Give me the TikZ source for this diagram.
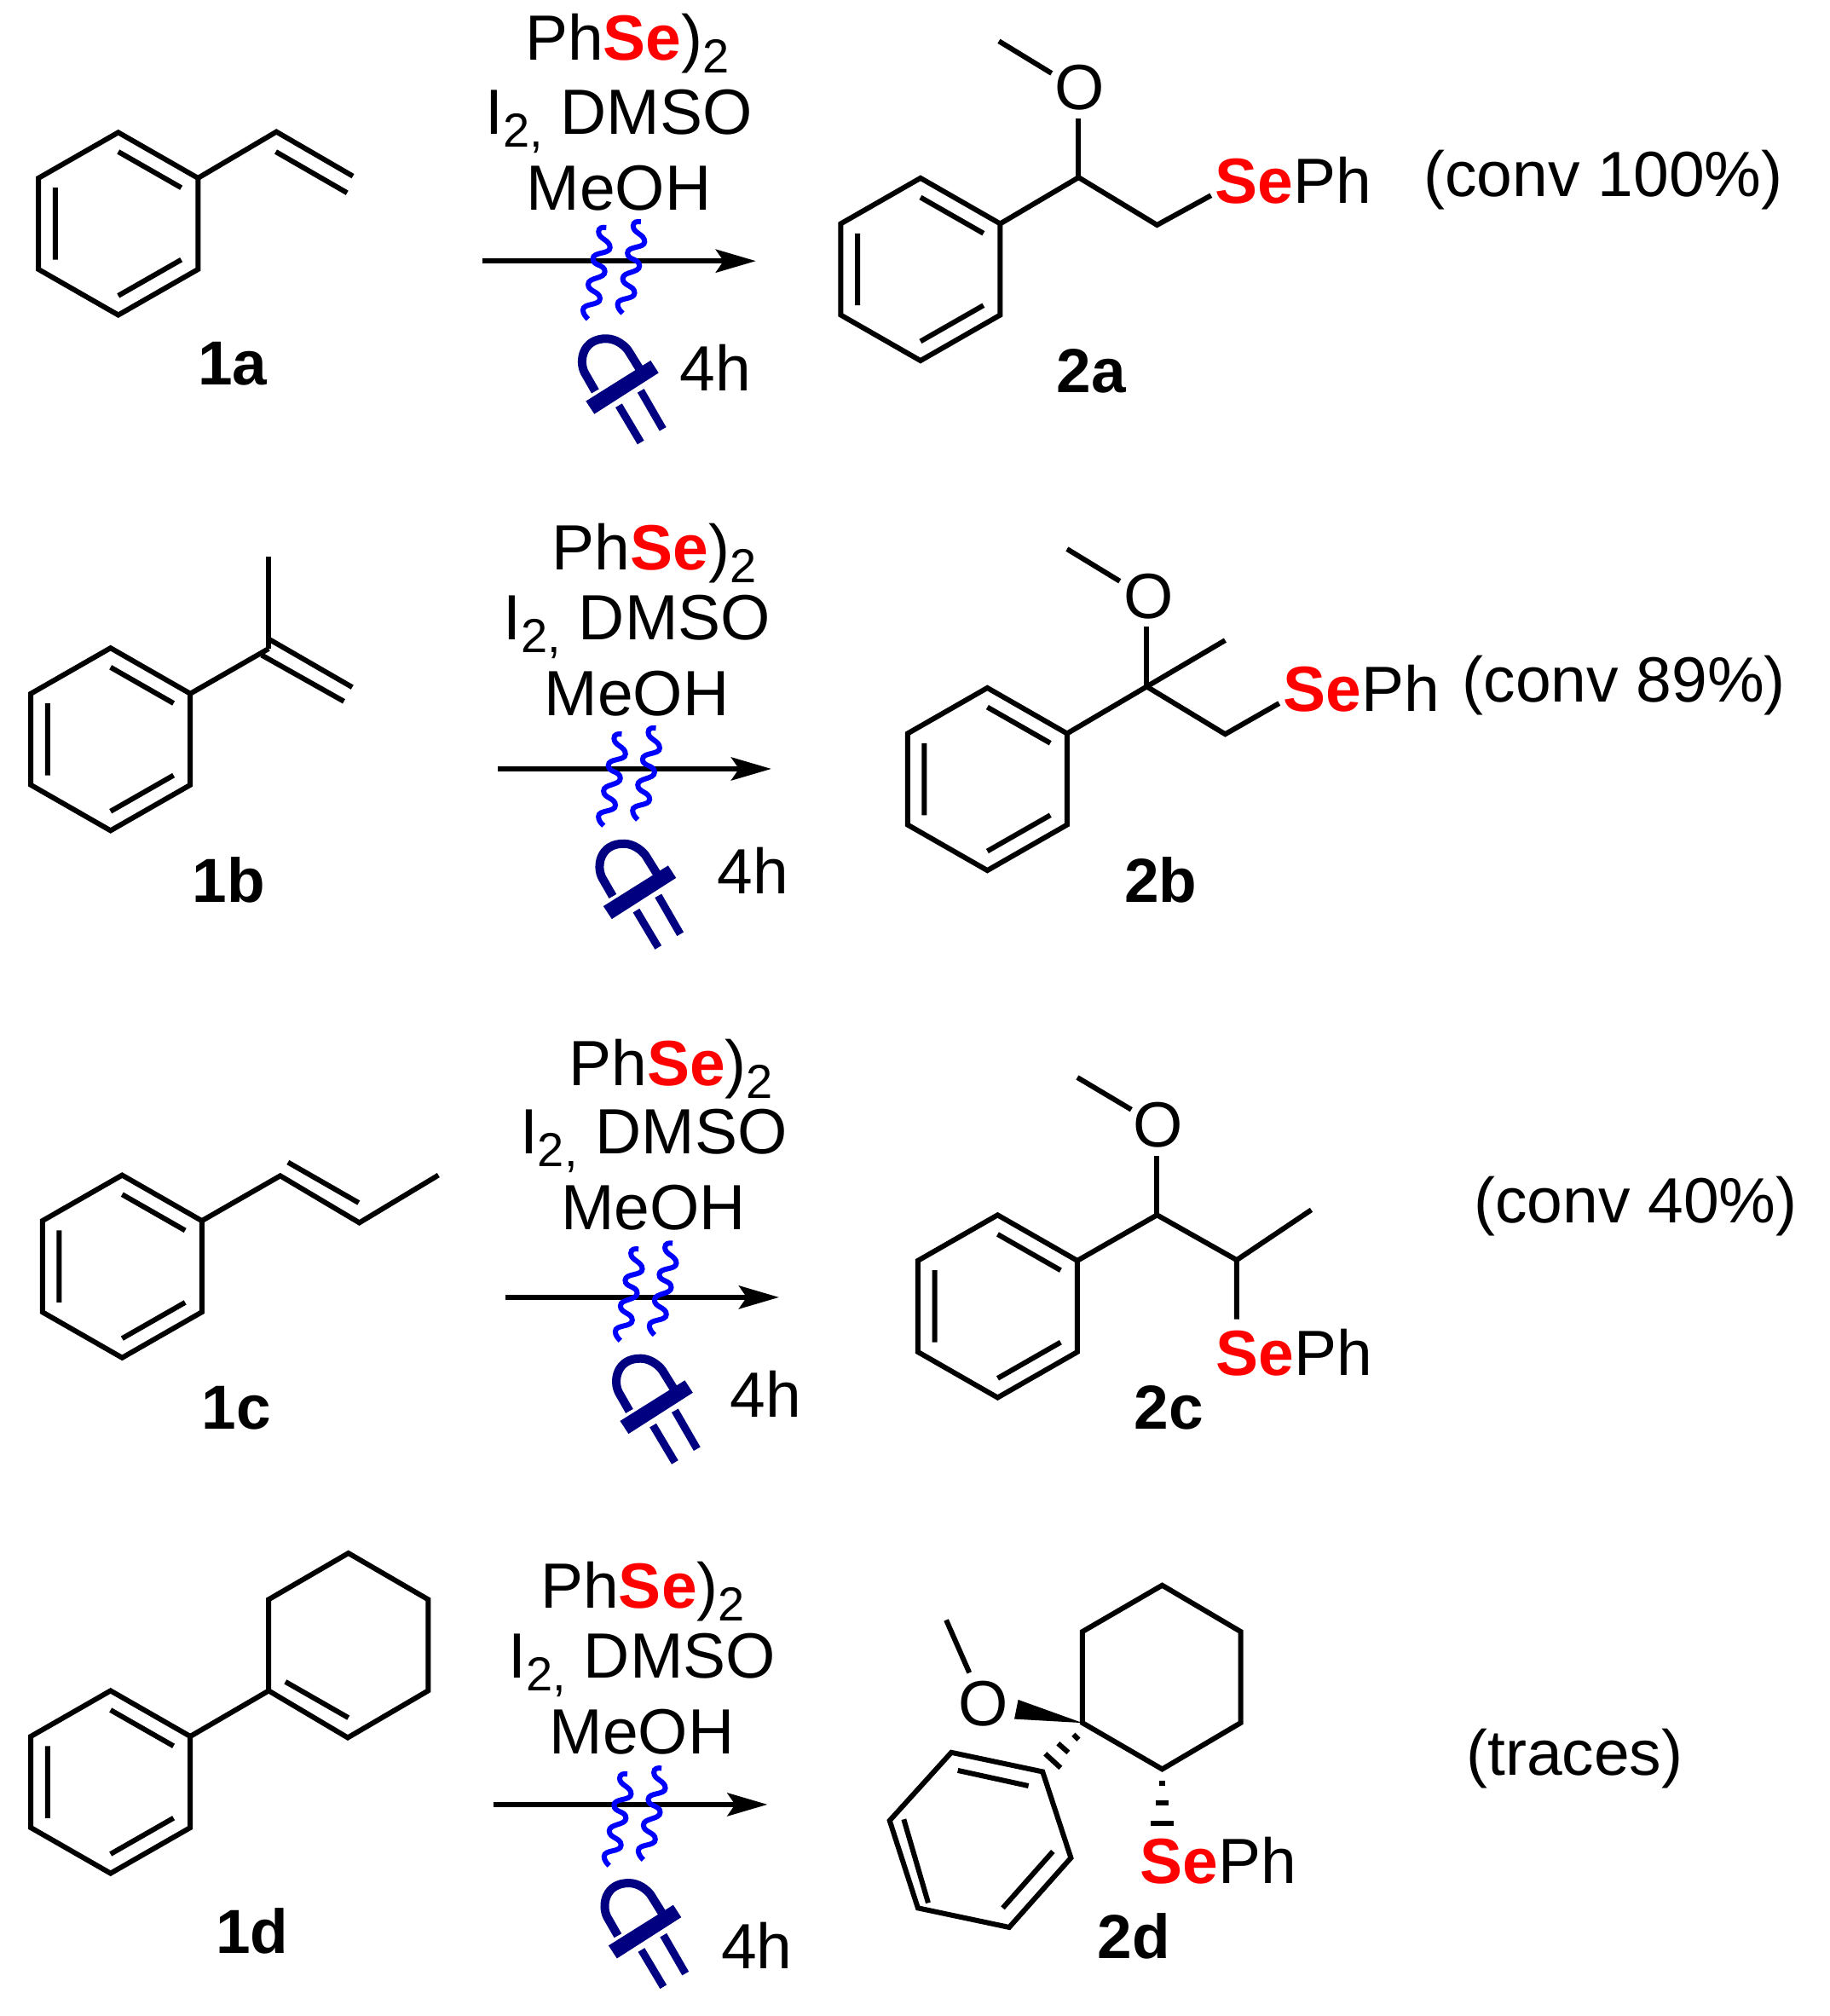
\documentclass[tikz,border=0pt]{standalone}
\usepackage{fontspec}
\setmainfont{Liberation Sans}
\usetikzlibrary{arrows.meta}
\newcommand{\bigfs}{\fontsize{75}{75}\selectfont}
\newcommand{\lblfs}{\fontsize{73}{73}\selectfont}
\newcommand{\subfs}{\fontsize{56}{56}\selectfont}
\newcommand{\sub}[1]{\raisebox{-15pt}{\subfs #1}}
\newcommand{\Sered}{\textcolor{red}{\bfseries Se}}
\definecolor{navy}{RGB}{0,0,128}
\tikzset{
  bond/.style={line width=6pt,line cap=butt,line join=miter,black},
  txt/.style={inner sep=0pt,outer sep=0pt,anchor=base west,font=\bigfs},
  lbl/.style={inner sep=0pt,outer sep=0pt,anchor=base,font=\lblfs\bfseries},
  rxnarrow/.style={line width=6pt,-{Stealth[length=47pt,width=27pt,inset=9pt]}},
  phenyl/.pic={
    \coordinate (-a) at (0,-71); \coordinate (-b) at (62,-35.5); \coordinate (-c) at (62,35.5);
    \coordinate (-d) at (0,71); \coordinate (-e) at (-62,35.5); \coordinate (-f) at (-62,-35.5);
    \draw[bond] (-a)--(-b)--(-c)--(-d)--(-e)--(-f)--cycle;
    \draw[bond] (0,-56)--(49,-28) (49,28)--(0,56) (-49,-28)--(-49,28);
  },
  wave/.pic={
    \draw[line width=6pt,blue,line cap=butt] (0,0) .. controls (-3,-.5) and (-6,0) .. (-6,3.3)
      .. controls (-6,9) and (2.9,9.5) .. (2.9,15.5) .. controls (2.9,21) and (-10.4,18.5) .. (-10.4,24.3)
      .. controls (-10.4,30) and (-1.1,28.5) .. (-1.1,34.3) .. controls (-1.1,40) and (-14.1,38.5) .. (-14.1,44.2)
      .. controls (-14.1,50) and (-4.9,49.5) .. (-4.9,55.3) .. controls (-4.9,61) and (-18.1,58.5) .. (-18.1,64.1)
      .. controls (-18.1,67) and (-16,69.5) .. (-14.1,71.2);
  },
  ledlamp/.pic={
    \fill[navy] (-28.3,11)--(-21.7,21)--(28.3,-11)--(22.1,-20.6)--cycle;
    \draw[navy,line width=10pt] (-21,3.3)--(-29.2,-11) .. controls (-34,-20) and (-31,-38) .. (-12,-37.6)
      .. controls (-5,-37.4) and (1,-33) .. (4.4,-28.7)--(13.3,-14.4);
    \draw[navy,line width=9pt] (-2.7,14.4)--(14.4,43.1) (14.4,2.9)--(31.6,32.7);
  }
}
\newcommand{\reagents}[7]{%
  \node[txt] (#1ph) at (#2,#3) {Ph\Sered)\sub{2}};
  \node[txt] (#1io) at (#4,#5) {I\sub{2,} DMSO};
  \node[txt] (#1me) at (#6,#7) {MeOH};
}
\newcommand{\lightpart}[7]{%
  \coordinate (#1s) at (#2,#3);
  \coordinate (#1e) at ([xshift=213*1.508pt]#1s);
  \draw[rxnarrow] (#1s)--(#1e);
  \pic at (#4,#5) {ledlamp};
  \node[txt] (#1t) at (#6,#7) {4h};
}
\begin{document}
\begin{tikzpicture}[x=1.5081pt,y=-1.5081pt]
\useasboundingbox (0,0) rectangle (1423,1568);
% ---------- row a
\pic (pa) at (92,174) {phenyl};
\coordinate (va1) at (215,102.5); \coordinate (va2) at (274.5,137);
\draw[bond] (pa-b)--(va1)--(va2);
\draw[bond] (214.5,118)--(270,150);
\node[lbl] (la1) at (181,299.5) {1a};
\reagents{ra}{408.5}{47}{377.5}{104.5}{409.5}{163.5}
\lightpart{ra}{375}{203}{484}{301}{529}{304}
\pic at (471.6,177) {wave};
\pic at (498.5,172.5) {wave};
\pic (qa) at (716,209.5) {phenyl};
\coordinate (ca1) at (839,138); \coordinate (ca2) at (900,175);
\node[txt] (oa) at (820.5,85) {O};
\coordinate (oab) at (839,92); \coordinate (mea) at (777,32); \coordinate (oam) at (818,57); \coordinate (sea) at (942,152);
\draw[bond] (qa-b)--(ca1)--(ca2)--(sea);
\draw[bond] (ca1)--(oab);
\draw[bond] (mea)--(oam);
\node[txt] (sa) at (945,158) {\Sered Ph};
\node[lbl] (la2) at (849,305.5) {2a};
\node[txt] (ca) at (1107.5,153) {(conv 100\%)};
% ---------- row b
\pic (pb) at (86,575) {phenyl};
\coordinate (vb1) at (209,504.5); \coordinate (vb2) at (274,534.5); \coordinate (vb0) at (209,497); \coordinate (vbm) at (209,433);
\draw[bond] (pb-b)--(vb1);
\draw[bond] (vb1)--(vbm);
\draw[bond] (vb0)--(vb2);
\draw[bond] (203.5,509.5)--(267.5,545.5);
\node[lbl] (lb1) at (178,701.5) {1b};
\reagents{rb}{429.5}{443}{391.5}{497.5}{423.5}{556.5}
\lightpart{rb}{387}{598}{497.6}{693.8}{558}{695}
\pic at (483.6,571) {wave};
\pic at (510.2,566.3) {wave};
\pic (qb) at (768,606) {phenyl};
\coordinate (cb1) at (892,534); \coordinate (cb2) at (953,571);
\node[txt] (ob) at (874,481) {O};
\coordinate (obb) at (892,487); \coordinate (meb) at (830,427); \coordinate (obm) at (871,452); \coordinate (seb) at (995,547); \coordinate (cbm) at (953,498);
\draw[bond] (qb-b)--(cb1)--(cb2)--(seb);
\draw[bond] (cb1)--(obb);
\draw[bond] (cb1)--(cbm);
\draw[bond] (meb)--(obm);
\node[txt] (sb) at (998,553) {\Sered Ph};
\node[lbl] (lb2) at (903,701.5) {2b};
\node[txt] (cb) at (1137.5,546) {(conv 89\%)};
% ---------- row c
\pic (pc) at (95,985) {phenyl};
\coordinate (vc1) at (218,914.5); \coordinate (vc2) at (279.5,951); \coordinate (vc3) at (341,914);
\draw[bond] (pc-b)--(vc1)--(vc2)--(vc3);
\draw[bond] (224,904)--(279,935.5);
\node[lbl] (lc1) at (184,1111.5) {1c};
\reagents{rc}{442.5}{844}{404.5}{897.5}{436.5}{956.5}
\lightpart{rc}{393}{1009}{510.6}{1094.2}{568}{1102}
\pic at (496.7,971.5) {wave};
\pic at (523.2,967) {wave};
\pic (qc) at (776,1016) {phenyl};
\coordinate (cc1) at (900,945); \coordinate (cc2) at (962,980);
\node[txt] (oc) at (881.5,892) {O};
\coordinate (ocb) at (900,899); \coordinate (mec) at (838,838); \coordinate (ocm) at (880,863); \coordinate (sec) at (962,1026); \coordinate (ccm) at (1020,941);
\draw[bond] (qc-b)--(cc1)--(cc2)--(sec);
\draw[bond] (cc1)--(ocb);
\draw[bond] (cc2)--(ccm);
\draw[bond] (mec)--(ocm);
\node[txt] (sc) at (946,1070) {\Sered Ph};
\node[lbl] (lc2) at (909,1111.5) {2c};
\node[txt] (cc) at (1146.5,951) {(conv 40\%)};
% ---------- row d
\pic (pd) at (86,1386) {phenyl};
\coordinate (vd1) at (209,1315); \coordinate (vd2) at (209,1244); \coordinate (vd3) at (271,1208);
\coordinate (vd4) at (333,1244); \coordinate (vd5) at (333,1315); \coordinate (vd6) at (270.5,1351.5);
\draw[bond] (pd-b)--(vd1);
\draw[bond] (vd1)--(vd2)--(vd3)--(vd4)--(vd5)--(vd6)--cycle;
\draw[bond] (222,1308)--(271,1336);
\node[lbl] (ld1) at (196,1519) {1d};
\reagents{rd}{420.5}{1251}{395.5}{1305}{427.5}{1364}
\lightpart{rd}{384}{1403.5}{501.6}{1502.2}{561}{1531}
\pic at (488,1379.8) {wave};
\pic at (514.6,1375.3) {wave};
\coordinate (hd1) at (904,1233); \coordinate (hd2) at (965,1269); \coordinate (hd3) at (965,1340);
\coordinate (hd4) at (904,1376); \coordinate (hd5) at (842,1340); \coordinate (hd6) at (842,1269);
\draw[bond] (hd1)--(hd2)--(hd3)--(hd4)--(hd5)--(hd6)--cycle;
\coordinate (qd1) at (740,1363); \coordinate (qd2) at (811,1378); \coordinate (qd3) at (833,1445);
\coordinate (qd4) at (785,1499); \coordinate (qd5) at (714,1484); \coordinate (qd6) at (692,1416);
\draw[bond] (qd1)--(qd2)--(qd3)--(qd4)--(qd5)--(qd6)--cycle;
\draw[bond] (745,1377)--(800,1389) (819,1440)--(780,1484) (703,1415)--(722,1480);
\node[txt] (od) at (745.5,1342) {O};
\coordinate (wd1) at (792,1322); \coordinate (wd2) at (789,1337);
\fill (hd5)--(wd1)--(wd2)--cycle;
\coordinate (medd) at (736,1260); \coordinate (odm) at (754,1301);
\draw[bond] (medd)--(odm);
\draw[bond] (835,1349)--(839,1353) (823,1356)--(831,1363) (813,1364)--(825,1375);
\draw[bond] (902,1387)--(906,1387) (899,1402)--(909,1402) (895,1418)--(913,1418);
\node[txt] (sd) at (887,1465) {\Sered Ph};
\node[lbl] (ld2) at (882,1523) {2d};
\node[txt] (cd) at (1140.5,1381) {(traces)};
\end{tikzpicture}
\end{document}
